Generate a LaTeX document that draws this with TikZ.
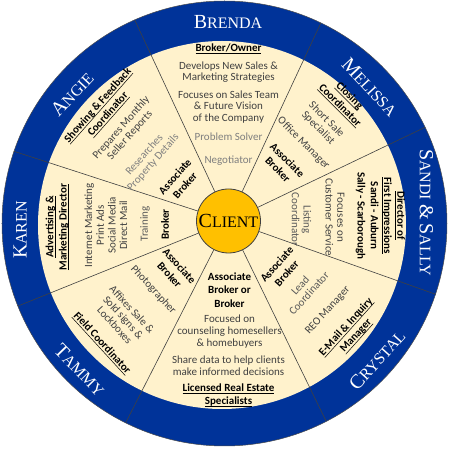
\documentclass[tikz,border=0pt]{standalone}
\usepackage{fontspec}
\setsansfont{Carlito}
\newfontfamily\namefont{Liberation Serif}
\usepackage{xcolor}
\usepackage{tikz}
\usetikzlibrary{calc}

\definecolor{ringblue}{RGB}{0,51,153}
\definecolor{cream}{RGB}{255,242,204}
\definecolor{gold}{RGB}{255,192,0}
\definecolor{txtdark}{RGB}{64,64,64}
\definecolor{txtmid}{RGB}{89,89,89}
\definecolor{txtlight}{RGB}{127,127,127}
\newcommand{\capinit}[1]{{\fontsize{20}{20}\selectfont #1}}
\newcommand{\ttlu}[1]{\setbox0=\hbox{#1}\rlap{\rule[-2pt]{\wd0}{0.5pt}}\box0}

\begin{document}
\begin{tikzpicture}[x=1pt, y=1pt,
  txt/.style={font=\sffamily\fontsize{11}{11.7}\selectfont, text=txtdark,
              align=center, inner sep=0pt},
  ttl/.style={txt, font=\sffamily\bfseries\fontsize{11}{13.3}\selectfont, text=black},
  bld/.style={ttl},
  midtxt/.style={txt, text=txtmid},
  lighttxt/.style={txt, text=txtlight},
  ringname/.style={font=\namefont\fontsize{16}{16}\selectfont, text=white, inner sep=0pt},
  disc/.style={circle, inner sep=0pt},
  rayline/.style={draw=black!75, line width=0.6pt},
]
\useasboundingbox (-228.5,-228) rectangle (221.5,221);

% wheel
\node[disc, fill=ringblue, draw=black!70, line width=0.5pt, minimum size=445pt] (ring) at (-4,-2.5) {};
\node[disc, fill=cream, minimum size=368pt] (dial) at (-6.5,-4) {};
\node[disc, fill=gold, draw=black!75, line width=0.8pt, minimum size=64pt,
      font=\namefont\fontsize{16}{16}\selectfont] (client) at (0,0) {\capinit{C}LIENT};
\begin{scope}
  \clip (ring.center) circle (222.5);
  \foreach \a in {65,25.5,-19.5,-64,-117,-158,162,115}
    \draw[rayline] (client.\a) -- (\a:260);
\end{scope}

% names on the ring
\node[ringname] (brenda) at (-0.5,199) {\capinit{B}RENDA};
\node[ringname, rotate=-47] (melissa) at (141.5,134) {\capinit{M}ELISSA};
\node[ringname, rotate=-90] (sandi) at (198,8.5) {\capinit{S}ANDI \capinit{\&} \capinit{S}ALLY};
\node[ringname, rotate=48] (crystal) at (148.5,-139) {\capinit{C}RYSTAL};
\node[ringname, rotate=-46] (tammy) at (-148.5,-149) {\capinit{T}AMMY};
\node[ringname, rotate=90] (karen) at (-208.5,-9) {\capinit{K}AREN};
\node[ringname, rotate=47] (angie) at (-156.5,127) {\capinit{A}NGIE};

% top
\node[ttl] (owner) at (90:172) {\ttlu{Broker/Owner}};
\node[txt] (develops) at (90:149) {Develops New Sales \&\\Marketing Strategies};
\node[txt] (focus) at (90:114) {Focuses on Sales Team\\\& Future Vision\\of the Company};
\node[lighttxt] (solver) at (90:84) {Problem Solver};
\node[lighttxt] (negot) at (90:60) {Negotiator};

% upper right
\node[ttl, rotate=-45] (closing) at (46:167) {\ttlu{Closing}\\\ttlu{Coordinator}};
\node[txt, rotate=-45] (shortsale) at (46:135) {Short Sale\\Specialist};
\node[txt, rotate=-45] (office) at (46:108) {Office Manager};
\node[bld, rotate=-45] (assocA) at (46:78) {Associate\\Broker};

% right
\node[ttl, rotate=-90] (director) at (2:152) {\ttlu{Director of}\\\ttlu{First Impressions}\\Sandi - Auburn\\Sally - Scarborough};
\node[txt, rotate=-90] (service) at (2:106.5) {Focuses on\\Customer Service};
\node[midtxt, rotate=-90] (listing) at (1:73) {Listing\\Coordinator};

% lower right
\node[bld, rotate=48] (assocB) at (-42:71.5) {Associate\\Broker};
\node[midtxt, rotate=48] (lead) at (-42:102.3) {Lead\\Coordinator};
\node[txt, rotate=48] (reo) at (-42:133.7) {REO Manager};
\node[ttl, rotate=48] (email) at (-42:165) {\ttlu{E-Mail \& Inquiry}\\\ttlu{Manager}};

% bottom
\node[bld] (assocC) at (1,-69) {Associate\\Broker or\\Broker};
\node[txt] (counsel) at (1,-110.5) {Focused on\\counseling homesellers\\\& homebuyers};
\node[txt] (share) at (0,-145) {Share data to help clients\\make informed decisions};
\node[ttl] (licensed) at (0,-174) {\ttlu{Licensed Real Estate}\\\ttlu{Specialists}};

% lower left
\node[bld, rotate=-47.5] (assocD) at (-137.5:73.2) {Associate\\Broker};
\node[txt, rotate=-47.5] (photo) at (-137.5:102) {Photographer};
\node[txt, rotate=-47.5] (affix) at (-137.5:142.5) {Affixes Sale \&\\Sold signs \&\\Lockboxes};
\node[ttl, rotate=-47.5] (field) at (-136:176) {\ttlu{Field Coordinator}};

% left
\node[ttl, rotate=90] (advert) at (182:171.5) {\ttlu{Advertising \&}\\\ttlu{Marketing Director}};
\node[txt, rotate=90] (channels) at (182:122.7) {Internet Marketing\\Print Ads\\Social Media\\Direct Mail};
\node[midtxt, rotate=90] (training) at (182:83.5) {Training};
\node[bld, rotate=90] (broker) at (183:63.5) {Broker};

% upper left
\node[ttl, rotate=48.5] (showing) at (138.5:167.4) {\ttlu{Showing \& Feedback}\\\ttlu{Coordinator}};
\node[txt, rotate=48.5] (prepares) at (139:136.2) {Prepares Monthly\\Seller Reports};
\node[lighttxt, rotate=48.5] (research) at (142:101) {Researches\\Property Details};
\node[bld, rotate=48.5] (assocE) at (140.5:63) {Associate\\Broker};
\end{tikzpicture}
\end{document}
